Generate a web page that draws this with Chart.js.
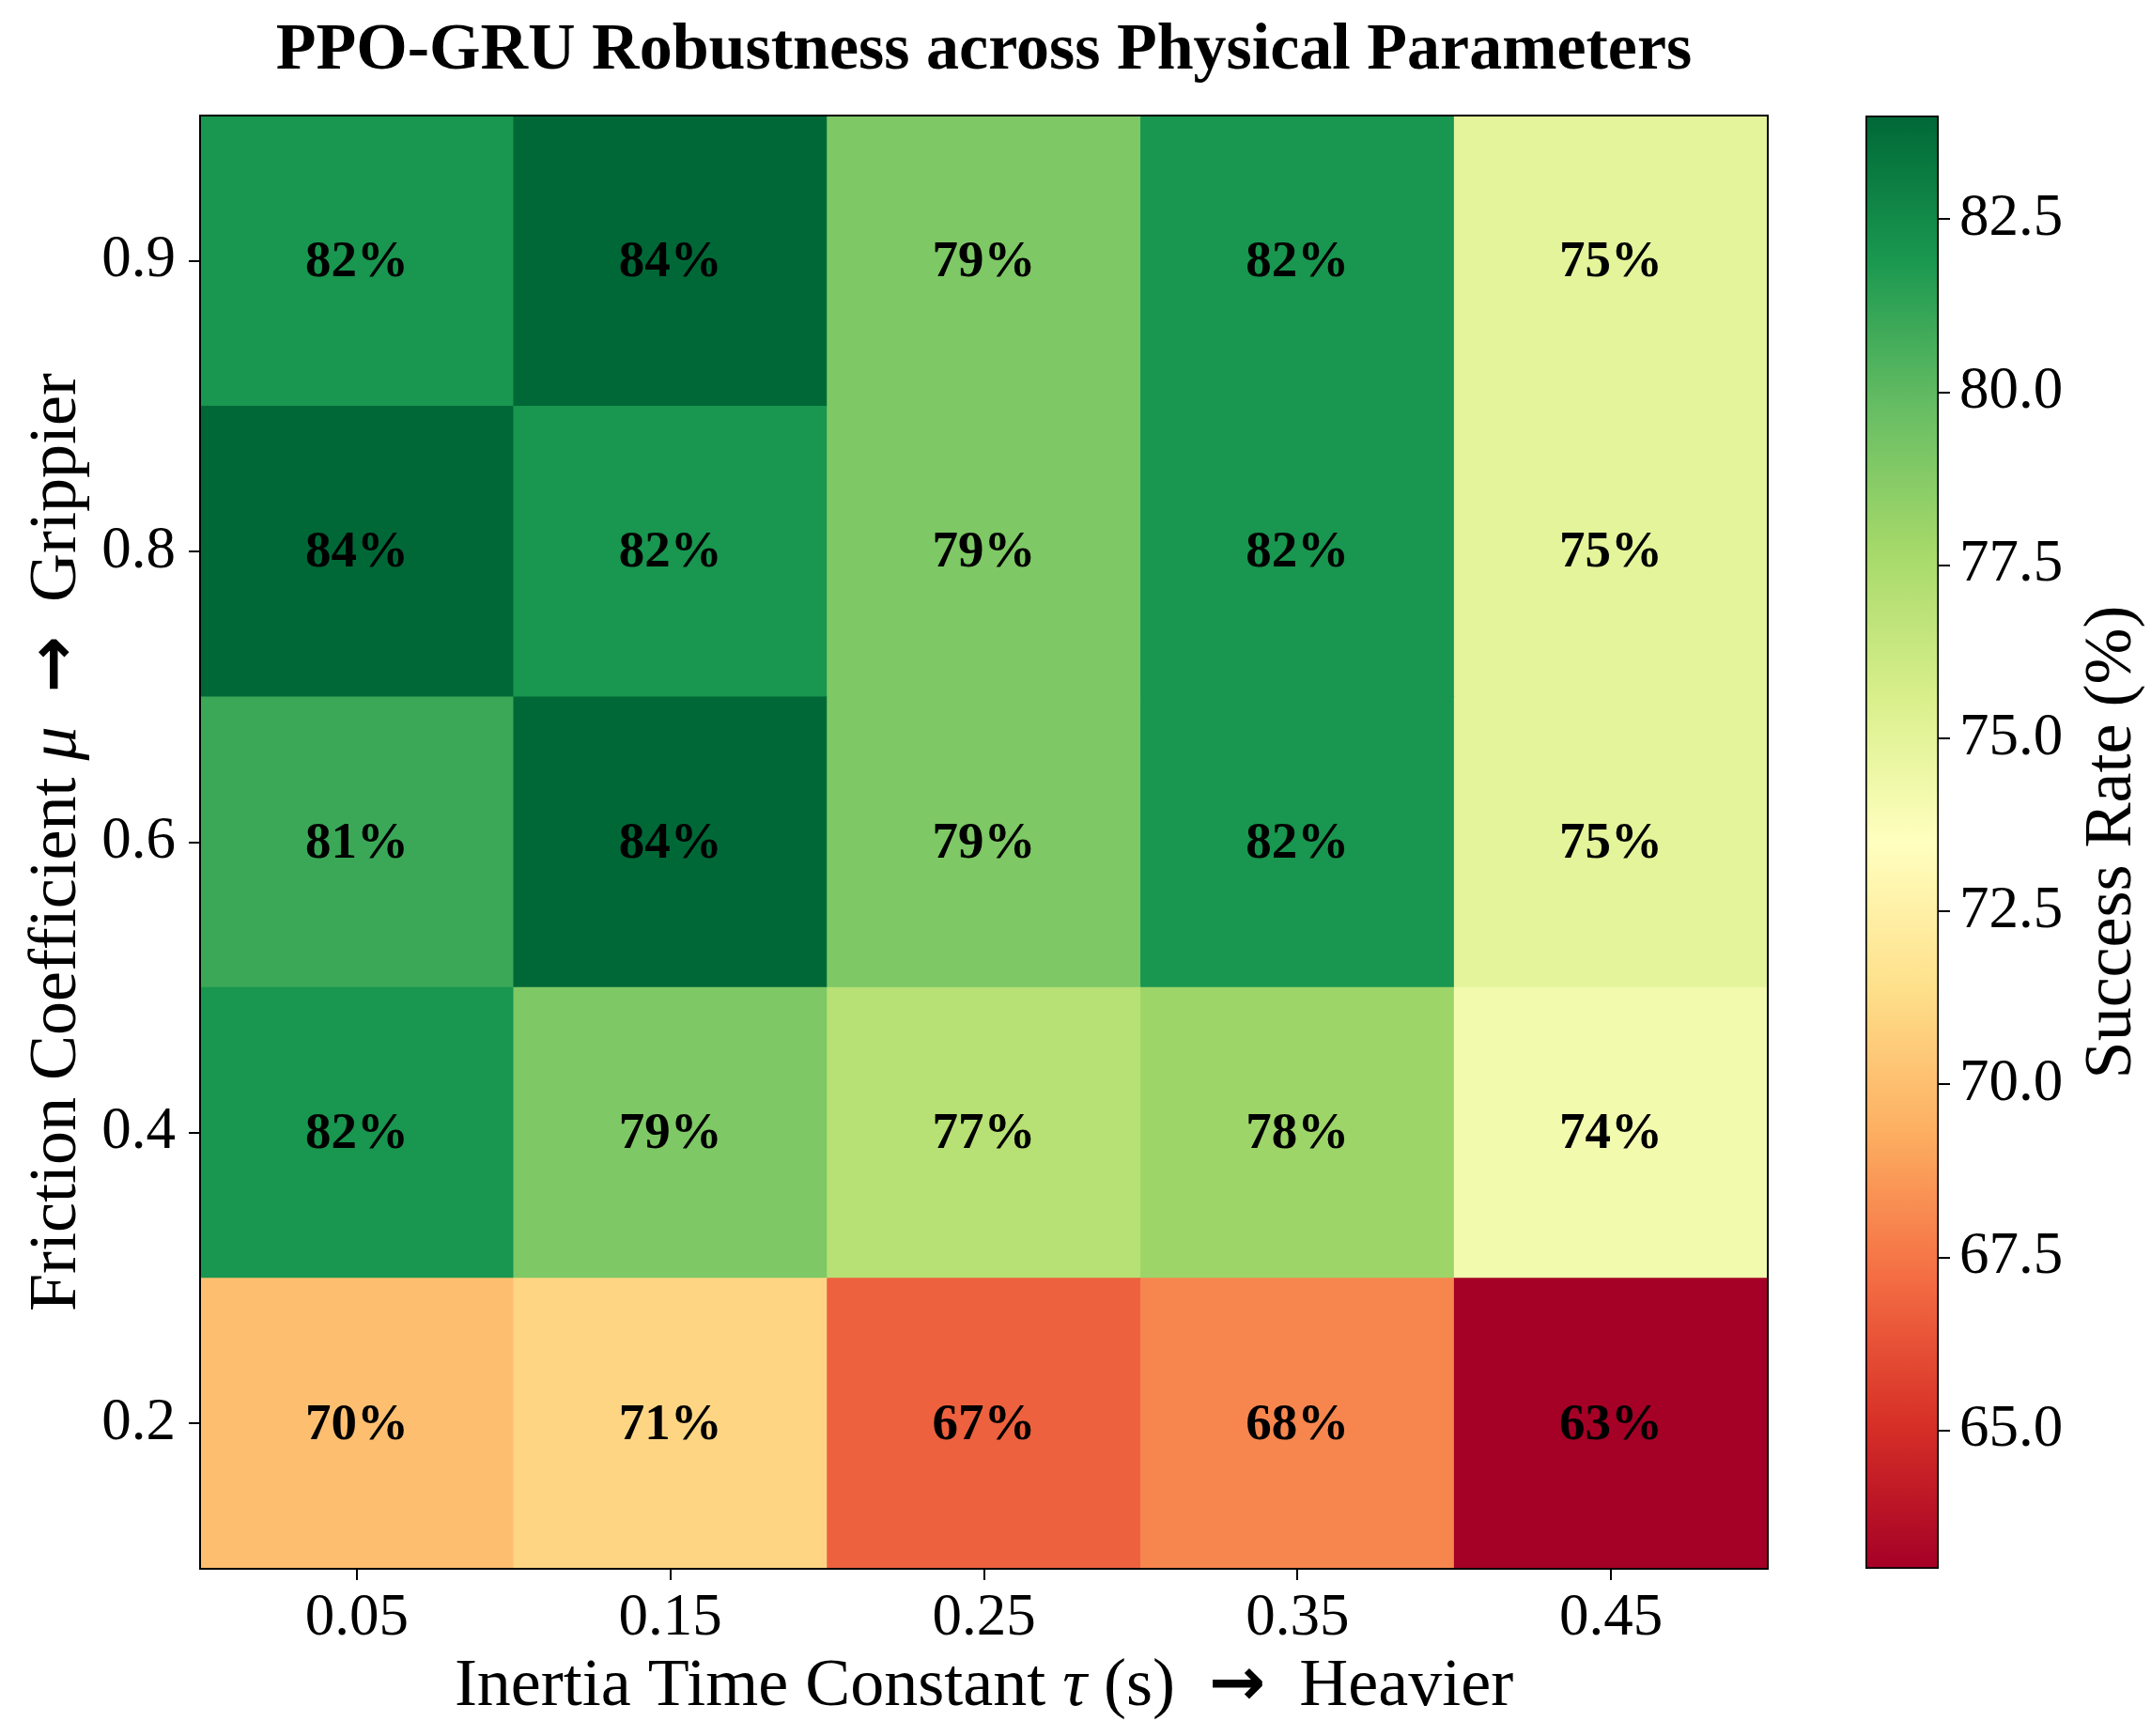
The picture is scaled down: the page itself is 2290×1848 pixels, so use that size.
<!DOCTYPE html>
<html>
<head>
<meta charset="utf-8">
<script src="https://cdn.jsdelivr.net/npm/chart.js@4.4.1/dist/chart.umd.min.js"></script>
<style>
  body { margin: 0; background: #fff; }
  #wrap { position: relative; width: 2290px; height: 1848px; background: #fff; }
  #heat-chart { position: absolute; left: 0; top: 0; }
  #cbar-chart { position: absolute; left: 1930px; top: 0; }
</style>
</head>
<body>
<div id="wrap">
  <canvas id="heat-chart" width="1930" height="1848"></canvas>
  <canvas id="cbar-chart" width="360" height="1848"></canvas>
</div>
<script>
// inertia time constant tau (s), left to right
const tauLabels = ['0.05', '0.15', '0.25', '0.35', '0.45'];
// friction coefficient mu, bottom to top
const muLabels = ['0.2', '0.4', '0.6', '0.8', '0.9'];

// success rate (%) per mu row, one value per tau column
const rateMu02 = [70.0, 71.0, 66.8, 68.0, 63.0];
const rateMu04 = [82.0, 79.0, 77.0, 78.0, 74.2];
const rateMu06 = [81.0, 84.0, 79.0, 82.0, 75.0];
const rateMu08 = [84.0, 82.0, 79.0, 82.0, 75.0];
const rateMu09 = [82.0, 84.0, 79.0, 82.0, 75.0];
const successRates = [rateMu02, rateMu04, rateMu06, rateMu08, rateMu09];

const cbarTicks = [65.0, 67.5, 70.0, 72.5, 75.0, 77.5, 80.0, 82.5];

const allRates = successRates.flat();
const vmin = Math.min(...allRates);
const vmax = Math.max(...allRates);

// RdYlGn
const rdylgn = ['#a50026', '#d73027', '#f46d43', '#fdae61', '#fee08b', '#ffffbf',
                '#d9ef8b', '#a6d96a', '#66bd63', '#1a9850', '#006837'];

function hexToRgb(h) {
    return [parseInt(h.slice(1, 3), 16), parseInt(h.slice(3, 5), 16), parseInt(h.slice(5, 7), 16)];
}

function cmap(v) {
    let t = (v - vmin) / (vmax - vmin);
    t = Math.max(0, Math.min(1, t));
    const pos = t * (rdylgn.length - 1);
    const i = Math.min(Math.floor(pos), rdylgn.length - 2);
    const f = pos - i;
    const a = hexToRgb(rdylgn[i]), b = hexToRgb(rdylgn[i + 1]);
    const c = a.map((x, k) => Math.round(x + (b[k] - x) * f));
    return 'rgb(' + c.join(',') + ')';
}

const SERIF = '"Liberation Serif", "Times New Roman", serif';
const tickFont = { family: SERIF, size: 63 };

// draw text made of pieces [text, fontPrefix, family], centred on x
function drawRich(ctx, parts, x, y, size, rotate) {
    ctx.save();
    ctx.translate(x, y);
    if (rotate) ctx.rotate(-Math.PI / 2);
    ctx.fillStyle = '#000';
    ctx.textBaseline = 'alphabetic';
    ctx.textAlign = 'left';
    const fontOf = p => (p[1] || '') + size + 'px ' + (p[2] || SERIF);
    let total = 0;
    const widths = parts.map(p => {
        ctx.font = fontOf(p);
        const w = ctx.measureText(p[0]).width;
        total += w;
        return w;
    });
    let cx = -total / 2;
    parts.forEach((p, i) => {
        ctx.font = fontOf(p);
        ctx.fillText(p[0], cx, 0);
        cx += widths[i];
    });
    ctx.restore();
}

const ARROW = ['\u2192', 'bold ', '"DejaVu Sans", sans-serif'];

const heatDecor = {
    id: 'heatDecor',
    afterDatasetsDraw(chart) {
        const ctx = chart.ctx;
        ctx.save();
        ctx.font = 'bold 55px ' + SERIF;
        ctx.fillStyle = '#000';
        ctx.textAlign = 'center';
        ctx.textBaseline = 'middle';
        chart.data.datasets.forEach((ds, r) => {
            chart.getDatasetMeta(r).data.forEach((bar, c) => {
                const p = bar.getProps(['x', 'y', 'base'], true);
                ctx.fillText(Math.round(successRates[r][c]) + '%', p.x, (p.y + p.base) / 2 + 2);
            });
        });
        ctx.restore();
    },
    afterDraw(chart) {
        const ctx = chart.ctx;
        const a = chart.chartArea;
        const midX = (a.left + a.right) / 2;
        const midY = (a.top + a.bottom) / 2;
        ctx.save();
        ctx.strokeStyle = '#000';
        ctx.lineWidth = 2;
        ctx.strokeRect(a.left, a.top, a.right - a.left, a.bottom - a.top);
        ctx.fillStyle = '#000';
        ctx.textAlign = 'center';
        ctx.textBaseline = 'alphabetic';
        ctx.font = 'bold 70px ' + SERIF;
        ctx.fillText('PPO-GRU Robustness across Physical Parameters', midX, 73);
        ctx.restore();
        drawRich(ctx, [['Inertia Time Constant '], ['\u03c4', 'italic '], [' (s)  '], ARROW, ['  Heavier']],
                 midX, 1815, 72, false);
        drawRich(ctx, [['Friction Coefficient '], ['\u03bc', 'italic '], ['  '], ARROW, ['  Grippier']],
                 80, midY, 72, true);
    }
};

new Chart(document.getElementById('heat-chart').getContext('2d'), {
    type: 'bar',
    data: {
        labels: tauLabels,
        datasets: muLabels.map((mu, r) => ({
            label: 'mu ' + mu,
            data: tauLabels.map(() => [r, r + 1]),
            backgroundColor: successRates[r].map(cmap),
            borderWidth: 0,
            grouped: false,
            barPercentage: 1,
            categoryPercentage: 1
        }))
    },
    options: {
        responsive: false,
        animation: false,
        devicePixelRatio: 1,
        layout: { padding: { top: 123, right: 48, left: 0, bottom: 0 } },
        plugins: { legend: { display: false }, tooltip: { enabled: false } },
        scales: {
            x: {
                grid: { drawOnChartArea: false, offset: false, tickLength: 12, color: '#000', lineWidth: 2 },
                border: { display: false },
                ticks: { font: tickFont, color: '#000', padding: 4, maxRotation: 0 },
                afterFit(s) { s.height = 178; }
            },
            y: {
                min: 0,
                max: 5,
                afterBuildTicks(s) { s.ticks = muLabels.map((m, i) => ({ value: i + 0.5 })); },
                grid: { drawOnChartArea: false, tickLength: 12, color: '#000', lineWidth: 2 },
                border: { display: false },
                ticks: { font: tickFont, color: '#000', padding: 14,
                         callback: (v) => muLabels[Math.floor(v)] },
                afterFit(s) { s.width = 213; }
            }
        }
    },
    plugins: [heatDecor]
});

const cbarDecor = {
    id: 'cbarDecor',
    afterDraw(chart) {
        const a = chart.chartArea;
        drawRich(chart.ctx, [['Success Rate (%)']], 338, (a.top + a.bottom) / 2, 72, true);
    }
};

new Chart(document.getElementById('cbar-chart').getContext('2d'), {
    type: 'bar',
    data: {
        labels: [''],
        datasets: [{
            data: [[vmin, vmax]],
            backgroundColor: function(c) {
                const ch = c.chart;
                if (!ch.chartArea) return null;
                const ys = ch.scales.y;
                const g = ch.ctx.createLinearGradient(0, ys.getPixelForValue(vmin), 0, ys.getPixelForValue(vmax));
                rdylgn.forEach((col, i) => g.addColorStop(i / (rdylgn.length - 1), col));
                return g;
            },
            borderColor: '#000',
            borderWidth: 2,
            borderSkipped: false,
            barPercentage: 1,
            categoryPercentage: 1
        }]
    },
    options: {
        responsive: false,
        animation: false,
        devicePixelRatio: 1,
        layout: { padding: { top: 123, right: 0, left: 56, bottom: 178 } },
        plugins: { legend: { display: false }, tooltip: { enabled: false } },
        scales: {
            x: { display: false },
            y: {
                position: 'right',
                min: vmin,
                max: vmax,
                afterBuildTicks(s) { s.ticks = cbarTicks.map(v => ({ value: v })); },
                grid: { drawOnChartArea: false, tickLength: 12, color: '#000', lineWidth: 2 },
                border: { display: false },
                ticks: { font: tickFont, color: '#000', padding: 10, callback: (v) => v.toFixed(1) },
                afterFit(s) { s.width = 226; }
            }
        }
    },
    plugins: [cbarDecor]
});
</script>
</body>
</html>
